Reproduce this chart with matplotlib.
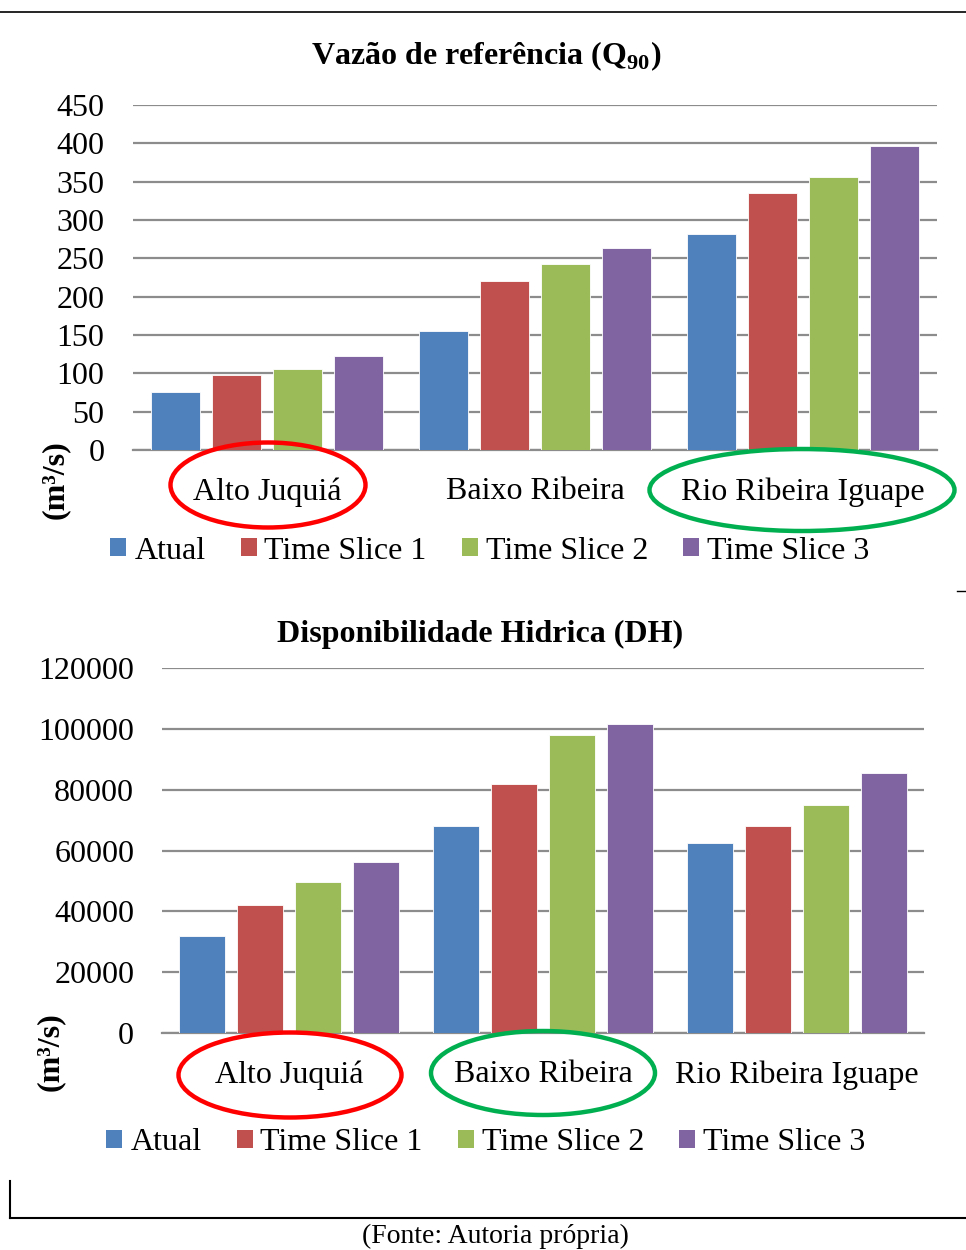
import matplotlib
matplotlib.use("Agg")
import matplotlib.pyplot as plt
import numpy as np
from matplotlib.lines import Line2D
from matplotlib.patches import Ellipse, Patch

plt.rcParams["font.family"] = ["Liberation Serif", "DejaVu Serif"]
plt.rcParams["mathtext.fontset"] = "custom"
plt.rcParams["mathtext.rm"] = "Liberation Serif"
plt.rcParams["mathtext.bf"] = "Liberation Serif:bold"

regions = ["Alto Juquiá", "Baixo Ribeira", "Rio Ribeira Iguape"]
series = ["Atual", "Time Slice 1", "Time Slice 2", "Time Slice 3"]
colors = ["#4F81BD", "#C0504D", "#9BBB59", "#8064A2"]

# Q90 reference flow (m3/s), one list per series, ordered by region
q90_atual = [76, 155, 282]
q90_ts1 = [98, 221, 335]
q90_ts2 = [106, 242, 356]
q90_ts3 = [122, 263, 397]
q90_ticks = [0, 50, 100, 150, 200, 250, 300, 350, 400, 450]

# Water availability (DH)
dh_atual = [31800, 68000, 62500]
dh_ts1 = [42100, 81900, 67900]
dh_ts2 = [49800, 98100, 75100]
dh_ts3 = [56100, 101700, 85600]
dh_ticks = [0, 20000, 40000, 60000, 80000, 100000, 120000]

GRID = "#8C8C8C"
FS = 23
W, H = 966, 1250


def fx(px):
    return px / W


def fy(py):
    return 1 - py / H


def bar_panel(ax, values, ticks, label_pad):
    x = np.arange(len(regions))
    step, width = 0.228, 0.182
    for i, (vals, c) in enumerate(zip(values, colors)):
        ax.bar(x + (i - 1.5) * step, vals, width, color=c,
               edgecolor="white", linewidth=0.6, zorder=3)
    ax.set_xlim(-0.5, len(regions) - 0.5)
    ax.set_ylim(ticks[0], ticks[-1])
    ax.set_yticks(ticks)
    ax.set_yticklabels([str(t) for t in ticks], fontsize=FS)
    ax.set_xticks(x)
    ax.set_xticklabels(regions, fontsize=FS)
    ax.tick_params(axis="both", length=0)
    ax.tick_params(axis="y", pad=label_pad)
    ax.tick_params(axis="x", pad=19.5)
    ax.grid(axis="y", color=GRID, linewidth=1.6, zorder=0)
    ax.set_axisbelow(True)
    for s in ["top", "right", "left"]:
        ax.spines[s].set_visible(False)
    ax.spines["bottom"].set_color(GRID)
    ax.spines["bottom"].set_linewidth(1.6)


def ring(fig, cx, cy, w, h, color):
    fig.add_artist(Ellipse((fx(cx), fy(cy)), w / W, h / H,
                           transform=fig.transFigure, fill=False,
                           edgecolor=color, linewidth=3.2))


def legend(fig, cy, cx):
    handles = [Patch(facecolor=c, edgecolor="none") for c in colors]
    fig.legend(handles, series, loc="center", ncol=4, frameon=False,
               bbox_to_anchor=(fx(cx), fy(cy)), fontsize=FS,
               handlelength=0.5, handleheight=0.5, handletextpad=0.25,
               columnspacing=1.1, borderpad=0)


fig = plt.figure(figsize=(W / 100, H / 100), dpi=100)

# top panel: Q90
ax1 = fig.add_axes([fx(133), fy(450), fx(937) - fx(133), fy(105) - fy(450)])
bar_panel(ax1, [q90_atual, q90_ts1, q90_ts2, q90_ts3], q90_ticks, 20.5)
fig.text(fx(486), fy(56), r"Vazão de referência (Q$_{\mathbf{90}}$)",
         ha="center", va="center", fontsize=FS, fontweight="bold")
fig.text(fx(55), fy(480), "(m³/s)", rotation=90, ha="center", va="center",
         fontsize=FS, fontweight="bold")
legend(fig, 551, 490)
ring(fig, 268, 485, 195, 85, "#FF0000")
ring(fig, 802, 490, 305, 82, "#00B050")

# bottom panel: DH
ax2 = fig.add_axes([fx(162), fy(1033), fx(924) - fx(162), fy(668) - fy(1033)])
bar_panel(ax2, [dh_atual, dh_ts1, dh_ts2, dh_ts3], dh_ticks, 20)
fig.text(fx(480), fy(634), "Disponibilidade Hidrica (DH)",
         ha="center", va="center", fontsize=FS, fontweight="bold")
fig.text(fx(50), fy(1052), "(m³/s)", rotation=90, ha="center", va="center",
         fontsize=FS, fontweight="bold")
legend(fig, 1143, 486)
ring(fig, 290, 1075, 223, 85, "#FF0000")
ring(fig, 543, 1073, 224, 84, "#00B050")

# page rules and source note
fig.add_artist(Line2D([0, 1], [fy(12), fy(12)], color="black", linewidth=1.2,
                      transform=fig.transFigure))
fig.add_artist(Line2D([fx(957), 1], [fy(591), fy(591)], color="black",
                      linewidth=1.0, transform=fig.transFigure))
fig.add_artist(Line2D([fx(10), fx(10)], [fy(1181), fy(1218)], color="black",
                      linewidth=1.5, transform=fig.transFigure))
fig.add_artist(Line2D([fx(10), 1], [fy(1218), fy(1218)], color="black",
                      linewidth=1.5, transform=fig.transFigure))
fig.text(fx(495), fy(1243), "(Fonte: Autoria própria)", ha="center",
         va="baseline", fontsize=20)

fig.savefig("out.png", dpi=100)
